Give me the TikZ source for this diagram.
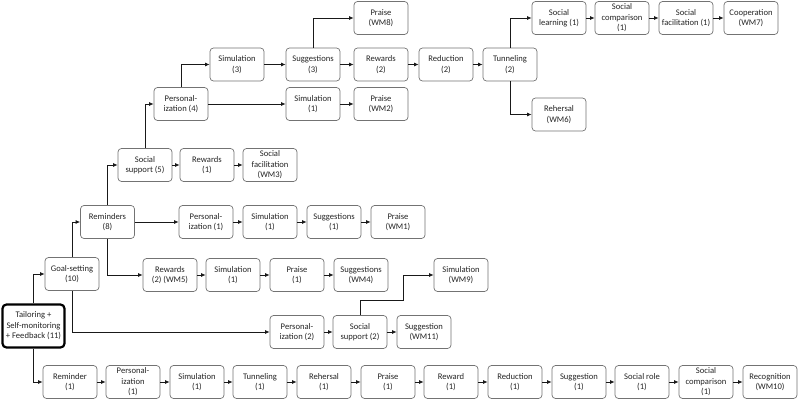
\documentclass[tikz,border=0pt]{standalone}
\usepackage{fontspec}
\setmainfont{Carlito}
\usetikzlibrary{arrows.meta}
\tikzset{
  box/.style={draw=black!55, line width=0.7pt, rounded corners=3.5pt, fill=white,
    minimum width=54pt, minimum height=33pt, inner sep=1pt, align=center,
    font=\fontsize{8.6}{10.4}\selectfont, text=black!85},
  rootbox/.style={box, draw=black, line width=2.2pt, minimum width=62pt, minimum height=43pt, rounded corners=4pt},
  conn/.style={line width=0.75pt, draw=black!90, -{Latex[length=4.5pt,width=4pt]}}
}
\begin{document}
\begin{tikzpicture}[x=1pt,y=-1pt]
\useasboundingbox (0,0) rectangle (800,403);
% main nodes
\node[rootbox] (root) at (33.5,326) {Tailoring +\\Self-monitoring\\+ Feedback (11)};
\node[box] (goal) at (72,274) {Goal-setting\\(10)};
\node[box] (rem) at (107.5,222) {Reminders\\(8)};
% reminders row
\node[box] (p1) at (206,222) {Personal-\\ization (1)};
\node[box] (s1) at (270,222) {Simulation\\(1)};
\node[box] (sg1) at (334,222) {Suggestions\\(1)};
\node[box] (pw1) at (398,222) {Praise\\(WM1)};
% rewards row
\node[box] (rw5) at (170,275) {Rewards\\(2) (WM5)};
\node[box] (sim4) at (233,275) {Simulation\\(1)};
\node[box] (pr4) at (297,275) {Praise\\(1)};
\node[box] (sgw4) at (361,275) {Suggestions\\(WM4)};
% personalization (2) row
\node[box] (p2) at (297,332) {Personal-\\ization (2)};
\node[box] (ss2) at (360,332) {Social\\support (2)};
\node[box] (sgw11) at (424,332) {Suggestion\\(WM11)};
\node[box] (simw9) at (461,275) {Simulation\\(WM9)};
% social support branch
\node[box] (ss5) at (145,165) {Social\\support (5)};
\node[box] (rw1) at (207,165) {Rewards\\(1)};
\node[box] (sfw3) at (270,165) {Social\\facilitation\\(WM3)};
\node[box] (p4) at (181,104) {Personal-\\ization (4)};
\node[box] (sim3) at (237,64.5) {Simulation\\(3)};
\node[box] (sug3) at (313,64.5) {Suggestions\\(3)};
\node[box] (rw2) at (381,64.5) {Rewards\\(2)};
\node[box] (red2) at (446,64.5) {Reduction\\(2)};
\node[box] (tun2) at (510,64.5) {Tunneling\\(2)};
\node[box] (pw8) at (381,18) {Praise\\(WM8)};
\node[box] (simB) at (313,104) {Simulation\\(1)};
\node[box] (pw2) at (381,104) {Praise\\(WM2)};
\node[box] (sl) at (559,18) {Social\\learning (1)};
\node[box] (sc) at (622,18) {Social\\comparison\\(1)};
\node[box] (sf) at (686,18) {Social\\facilitation (1)};
\node[box] (coop) at (751,18) {Cooperation\\(WM7)};
\node[box] (rehw6) at (559,114.5) {Rehersal\\(WM6)};
% bottom row
\node[box] (b1) at (70,382) {Reminder\\(1)};
\node[box] (b2) at (133,382) {Personal-\\ization\\(1)};
\node[box] (b3) at (197,382) {Simulation\\(1)};
\node[box] (b4) at (260,382) {Tunneling\\(1)};
\node[box] (b5) at (324,382) {Rehersal\\(1)};
\node[box] (b6) at (388,382) {Praise\\(1)};
\node[box] (b7) at (451,382) {Reward\\(1)};
\node[box] (b8) at (515,382) {Reduction\\(1)};
\node[box] (b9) at (579,382) {Suggestion\\(1)};
\node[box] (b10) at (642,382) {Social role\\(1)};
\node[box] (b11) at (706,382) {Social\\comparison\\(1)};
\node[box] (b12) at (770,382) {Recognition\\(WM10)};
% connectors
\draw[conn] (root.north) |- (goal.west);
\draw[conn] (root.south) |- (b1.west);
\draw[conn] (goal.north) |- (rem.west);
\draw[conn] (goal.south) |- (p2.west);
\draw[conn] (rem.east) -- (p1.west);
\draw[conn] (rem.south) |- (rw5.west);
\draw[conn] (rem.north) |- (ss5.west);
\draw[conn] (p1) -- (s1);
\draw[conn] (s1) -- (sg1);
\draw[conn] (sg1) -- (pw1);
\draw[conn] (rw5) -- (sim4);
\draw[conn] (sim4) -- (pr4);
\draw[conn] (pr4) -- (sgw4);
\draw[conn] (p2) -- (ss2);
\draw[conn] (ss2) -- (sgw11);
\coordinate (k1) at (403,300);
\draw[conn] (ss2.north) |- (k1) |- (simw9.west);
\draw[conn] (ss5) -- (rw1);
\draw[conn] (rw1) -- (sfw3);
\draw[conn] (ss5.north) |- (p4.west);
\draw[conn] (p4.north) |- (sim3.west);
\draw[conn] (p4.east) -- (simB.west);
\draw[conn] (simB) -- (pw2);
\draw[conn] (sim3) -- (sug3);
\draw[conn] (sug3) -- (rw2);
\draw[conn] (rw2) -- (red2);
\draw[conn] (red2) -- (tun2);
\draw[conn] (sug3.north) |- (pw8.west);
\draw[conn] (tun2.north) |- (sl.west);
\draw[conn] (tun2.south) |- (rehw6.west);
\draw[conn] (sl) -- (sc);
\draw[conn] (sc) -- (sf);
\draw[conn] (sf) -- (coop);
\draw[conn] (b1) -- (b2);
\draw[conn] (b2) -- (b3);
\draw[conn] (b3) -- (b4);
\draw[conn] (b4) -- (b5);
\draw[conn] (b5) -- (b6);
\draw[conn] (b6) -- (b7);
\draw[conn] (b7) -- (b8);
\draw[conn] (b8) -- (b9);
\draw[conn] (b9) -- (b10);
\draw[conn] (b10) -- (b11);
\draw[conn] (b11) -- (b12);
\end{tikzpicture}
\end{document}
